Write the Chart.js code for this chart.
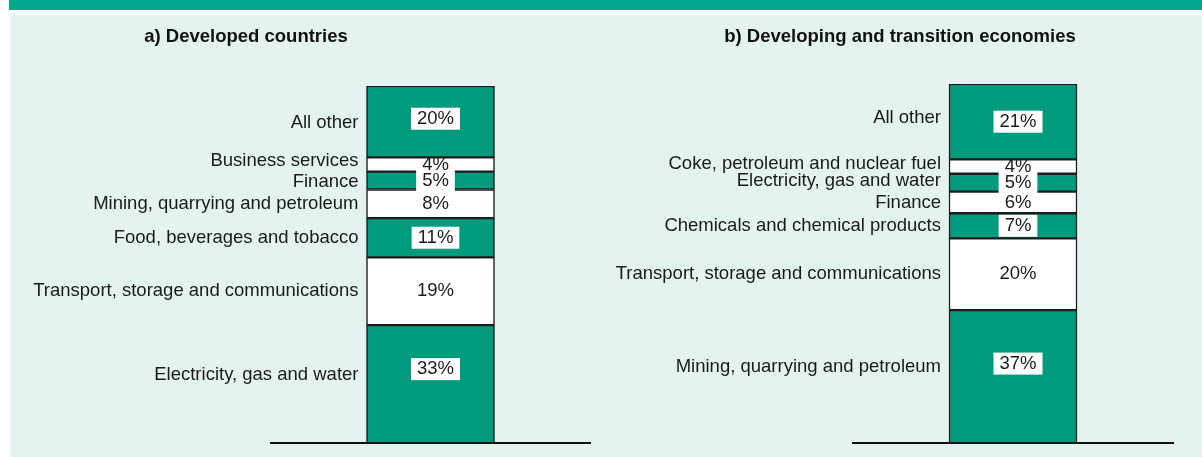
<!DOCTYPE html>
<html>
<head>
<meta charset="utf-8">
<script src="https://cdn.jsdelivr.net/npm/chart.js@4.4.1/dist/chart.umd.min.js"></script>
<style>
  html, body { margin: 0; padding: 0; background: #ffffff; width: 1202px; height: 457px; overflow: hidden; }
  #topbar { position: absolute; left: 9px; top: 0; width: 1193px; height: 10px; background: #00a88f; }
  #panel { position: absolute; left: 11px; top: 15px; width: 1191px; height: 442px; background: #e4f3ef; }
  #wrapA { position: absolute; left: 11px; top: 15px; width: 590px; height: 442px; }
  #wrapB { position: absolute; left: 601px; top: 15px; width: 601px; height: 442px; }
</style>
</head>
<body>
<div id="topbar"></div>
<div id="panel"></div>
<div id="wrapA"><canvas id="chartA"></canvas></div>
<div id="wrapB"><canvas id="chartB"></canvas></div>
<script>
// ---- Data (bottom segment first) ----
const titleA = "a) Developed countries";
const categoriesA = [
  "Electricity, gas and water",
  "Transport, storage and communications",
  "Food, beverages and tobacco",
  "Mining, quarrying and petroleum",
  "Finance",
  "Business services",
  "All other"
];
const valuesA = [33, 19, 11, 8, 5, 4, 20];

const titleB = "b) Developing and transition economies";
const categoriesB = [
  "Mining, quarrying and petroleum",
  "Transport, storage and communications",
  "Chemicals and chemical products",
  "Finance",
  "Electricity, gas and water",
  "Coke, petroleum and nuclear fuel",
  "All other"
];
const valuesB = [37, 20, 7, 6, 5, 4, 21];

// ---- Styles ----
const GREEN = "#009b7c";
const WHITE = "#ffffff";
const FONT = "'Liberation Sans', Arial, Helvetica, sans-serif";

const segmentLabels = {
  id: "segmentLabels",
  afterDatasetsDraw(chart, args, opts) {
    const ctx = chart.ctx;
    ctx.save();
    ctx.font = "18.5px " + FONT;
    ctx.textBaseline = "middle";
    chart.data.datasets.forEach((ds, i) => {
      const el = chart.getDatasetMeta(i).data[0];
      if (!el) return;
      const top = Math.min(el.y, el.base), bot = Math.max(el.y, el.base);
      const cy = (top + bot) / 2;
      const left = el.x - el.width / 2;
      const catLift = (opts.catLift && opts.catLift[i]) || 0;
      const pctLift = (opts.pctLift && opts.pctLift[i]) || 0;
      // category label
      ctx.fillStyle = "#1a1a1a";
      ctx.textAlign = "right";
      ctx.fillText(ds.label, left - 8, cy - catLift);
      // percentage label
      const txt = ds.data[0] + "%";
      const tx = el.x + opts.offsetX;
      const ty = cy - pctLift;
      const w = ctx.measureText(txt).width;
      if (ds.backgroundColor !== WHITE) {
        ctx.fillStyle = "#ffffff";
        ctx.fillRect(tx - w / 2 - 6, ty - 11, w + 12, 22);
      }
      ctx.fillStyle = "#1a1a1a";
      ctx.textAlign = "center";
      ctx.fillText(txt, tx, ty);
    });
    ctx.restore();
  }
};

const panelTitle = {
  id: "panelTitle",
  afterDraw(chart, args, opts) {
    const ctx = chart.ctx;
    ctx.save();
    ctx.font = "bold 18.5px " + FONT;
    ctx.fillStyle = "#111111";
    ctx.textAlign = "center";
    ctx.textBaseline = "middle";
    ctx.fillText(opts.text, opts.x, opts.y);
    ctx.restore();
  }
};

function makeChart(id, title, cats, vals, pad, titleX, catLift, pctLift) {
  const datasets = cats.map((c, i) => ({
    label: c,
    data: [vals[i]],
    backgroundColor: i % 2 === 0 ? GREEN : WHITE,
    borderColor: "#1c1c1c",
    borderWidth: 1.5,
    borderSkipped: false,
    barThickness: 128
  }));
  return new Chart(document.getElementById(id), {
    type: "bar",
    data: { labels: [""], datasets },
    options: {
      responsive: true,
      maintainAspectRatio: false,
      animation: false,
      layout: { padding: pad },
      plugins: {
        legend: { display: false },
        tooltip: { enabled: false },
        title: { display: false },
        segmentLabels: { offsetX: 5, catLift, pctLift },
        panelTitle: { text: title, x: titleX, y: 22 }
      },
      scales: {
        x: {
          stacked: true,
          grid: { display: false, drawTicks: false },
          ticks: { display: false },
          border: { display: true, color: "#111111", width: 2 }
        },
        y: {
          stacked: true,
          display: false,
          min: 0,
          max: 100
        }
      }
    },
    plugins: [segmentLabels, panelTitle]
  });
}

makeChart("chartA", titleA, categoriesA, valuesA,
  { left: 260, right: 11, top: 71, bottom: 14 }, 235,
  { 0: 9, 4: -1, 5: 4, 6: -1 }, { 0: 15, 6: 3 });
makeChart("chartB", titleB, categoriesB, valuesB,
  { left: 252, right: 29, top: 69, bottom: 14 }, 299,
  { 0: 10, 4: 2, 5: 3, 6: 4 }, { 0: 13 });
</script>
</body>
</html>
